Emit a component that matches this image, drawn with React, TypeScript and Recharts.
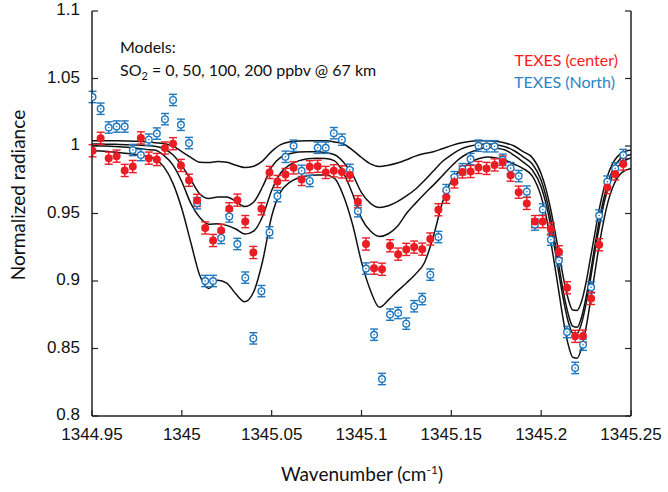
import React from "react";
import { ComposedChart, Line, Scatter, XAxis, YAxis, ErrorBar } from "recharts";

// TEXES spectra: the two data sets share one wavenumber grid
const pointX = [
  1344.9503, 1344.9548, 1344.9593, 1344.9637, 1344.9682, 1344.9727, 1344.9772, 1344.9816,
  1344.9861, 1344.9906, 1344.9951, 1344.9995, 1345.004, 1345.0085, 1345.013, 1345.0174,
  1345.0219, 1345.0264, 1345.0309, 1345.0353, 1345.0398, 1345.0443, 1345.0488, 1345.0532,
  1345.0577, 1345.0622, 1345.0667, 1345.0712, 1345.0756, 1345.0801, 1345.0846, 1345.0891,
  1345.0935, 1345.098, 1345.1025, 1345.107, 1345.1114, 1345.1159, 1345.1204, 1345.1249,
  1345.1293, 1345.1338, 1345.1383, 1345.1428, 1345.1472, 1345.1517, 1345.1562, 1345.1607,
  1345.1651, 1345.1696, 1345.1741, 1345.1786, 1345.183, 1345.1875, 1345.192, 1345.1965,
  1345.2009, 1345.2054, 1345.2099, 1345.2144, 1345.2189, 1345.2233, 1345.2278, 1345.2323,
  1345.2368, 1345.2412, 1345.2457,
];

const centerY = [
  0.9965, 1.0057, 0.991, 0.9925, 0.9819, 0.9848, 1.006, 0.991, 0.99, 0.9985, 1.0017, 0.9856,
  0.9746, 0.9597, 0.9393, 0.93, 0.9375, 0.9535, 0.9599, 0.944, 0.9211, 0.9535, 0.9804, 0.9737,
  0.9789, 0.9838, 0.9752, 0.9846, 0.985, 0.9804, 0.9816, 0.9808, 0.9786, 0.9587, 0.9274, 0.9095,
  0.9087, 0.9261, 0.9199, 0.9234, 0.9251, 0.9236, 0.9311, 0.9528, 0.962, 0.9734, 0.9808, 0.9811,
  0.9841, 0.9834, 0.986, 0.9881, 0.9784, 0.9658, 0.9575, 0.944, 0.944, 0.9386, 0.9216, 0.895,
  0.859, 0.8592, 0.8871, 0.9269, 0.9692, 0.9793, 0.9866,
];

const northY = [
  1.0363, 1.0276, 1.0137, 1.0144, 1.0144, 0.997, 0.9933, 1.0047, 1.0092, 1.0199, 1.0341, 1.0157,
  1.0022, 0.9576, 0.9, 0.9, 0.9319, 0.9478, 0.9274, 0.9025, 0.8575, 0.8925, 0.936, 0.9629,
  0.992, 1.0002, 0.9816, 0.9741, 0.9987, 0.9987, 1.0095, 1.0047, 0.9823, 0.9517, 0.9092, 0.8602,
  0.8274, 0.8751, 0.8763, 0.8684, 0.8813, 0.8866, 0.9047, 0.9326, 0.9673, 0.9769, 0.9828, 0.9903,
  1.0002, 0.9998, 0.9998, 0.9898, 0.9836, 0.9777, 0.9662, 0.9418, 0.953, 0.9306, 0.9152, 0.8622,
  0.8356, 0.8528, 0.8953, 0.9485, 0.9736, 0.9834, 0.9933,
];

const centerErr = 0.0045;
const northErr = 0.0042;

// model spectra, SO2 = 0, 50, 100, 200 ppbv
const modelX = [
  1344.95, 1344.955, 1344.96, 1344.965, 1344.97, 1344.975, 1344.98, 1344.985, 1344.99, 1344.995,
  1345.0, 1345.005, 1345.01, 1345.015, 1345.02, 1345.025, 1345.03, 1345.035, 1345.04, 1345.045,
  1345.05, 1345.055, 1345.06, 1345.065, 1345.07, 1345.075, 1345.08, 1345.085, 1345.09, 1345.095,
  1345.1, 1345.105, 1345.11, 1345.115, 1345.12, 1345.125, 1345.13, 1345.135, 1345.14, 1345.145,
  1345.15, 1345.155, 1345.16, 1345.165, 1345.17, 1345.175, 1345.18, 1345.185, 1345.19, 1345.195,
  1345.2, 1345.2025, 1345.205, 1345.2075, 1345.21, 1345.2125, 1345.215, 1345.2175, 1345.22,
  1345.2225, 1345.225, 1345.2275, 1345.23, 1345.2325, 1345.235, 1345.2375, 1345.24, 1345.245,
  1345.25,
];

const so2_0 = [
  1.0039, 1.0039, 1.0039, 1.0038, 1.0037, 1.0035, 1.0031, 1.0024, 1.0018, 1.0, 0.9958, 0.9915,
  0.988, 0.9878, 0.9886, 0.988, 0.9858, 0.984, 0.985, 0.989, 0.996, 1.001, 1.003, 1.0037, 1.0039,
  1.0039, 1.0038, 1.003, 1.0015, 0.997, 0.9915, 0.9868, 0.9848, 0.9858, 0.9874, 0.9898, 0.9925,
  0.9944, 0.9958, 0.998, 1.0003, 1.0022, 1.0034, 1.0039, 1.0039, 1.0035, 1.0022, 1.0, 0.9958,
  0.9915, 0.9795, 0.969, 0.955, 0.938, 0.92, 0.9016, 0.887, 0.8785, 0.8782, 0.885, 0.899, 0.9175,
  0.936, 0.9544, 0.969, 0.98, 0.9875, 0.995, 0.997,
];

const so2_50 = [
  1.0015, 1.0014, 1.0013, 1.0012, 1.001, 1.0007, 1.0003, 0.9998, 0.998, 0.9935, 0.9855, 0.975,
  0.9645, 0.9612, 0.9622, 0.9622, 0.959, 0.9552, 0.9585, 0.97, 0.9845, 0.9915, 0.9942, 0.9955,
  0.9958, 0.9957, 0.995, 0.9935, 0.988, 0.979, 0.9655, 0.9575, 0.9545, 0.9558, 0.9588, 0.963,
  0.968, 0.9745, 0.9815, 0.9885, 0.9935, 0.9975, 0.9998, 1.0012, 1.0015, 1.001, 0.9995, 0.9965,
  0.992, 0.9868, 0.9746, 0.9634, 0.9484, 0.9301, 0.9102, 0.891, 0.8758, 0.8666, 0.8657, 0.8733,
  0.888, 0.9066, 0.9271, 0.9458, 0.9621, 0.9741, 0.9828, 0.9914, 0.9938,
];

const so2_100 = [
  1.0002, 1.0, 0.9998, 0.9995, 0.999, 0.9984, 0.9975, 0.997, 0.993, 0.986, 0.9735, 0.9575, 0.947,
  0.942, 0.9425, 0.9412, 0.9385, 0.9348, 0.937, 0.948, 0.967, 0.98, 0.986, 0.989, 0.9905, 0.991,
  0.9907, 0.989, 0.98, 0.9646, 0.9464, 0.937, 0.933, 0.935, 0.9405, 0.95, 0.9575, 0.9645, 0.971,
  0.978, 0.985, 0.991, 0.995, 0.9975, 0.999, 0.9985, 0.997, 0.993, 0.988, 0.9824, 0.9696, 0.9582,
  0.9429, 0.9244, 0.9044, 0.8854, 0.8702, 0.8615, 0.8612, 0.8688, 0.8833, 0.9018, 0.9224, 0.9413,
  0.9578, 0.97, 0.9791, 0.988, 0.9911,
];

const so2_200 = [
  0.9965, 0.9963, 0.9958, 0.9952, 0.9945, 0.9935, 0.9925, 0.9905, 0.9845, 0.9725, 0.9535, 0.9285,
  0.904, 0.8945, 0.9005, 0.8985, 0.8905, 0.8847, 0.892, 0.915, 0.948, 0.966, 0.973, 0.9765, 0.978,
  0.9785, 0.9785, 0.976, 0.963, 0.942, 0.914, 0.893, 0.8805, 0.886, 0.8925, 0.8985, 0.905, 0.9135,
  0.933, 0.958, 0.974, 0.982, 0.9875, 0.9905, 0.9919, 0.9912, 0.9895, 0.9865, 0.9833, 0.9778,
  0.9625, 0.9496, 0.932, 0.912, 0.8906, 0.8697, 0.8532, 0.8436, 0.8427, 0.8506, 0.8656, 0.8857,
  0.9073, 0.9283, 0.9459, 0.9601, 0.97, 0.9805, 0.9833,
];

const xTicks = [1344.95, 1345, 1345.05, 1345.1, 1345.15, 1345.2, 1345.25];
const yTicks = [0.8, 0.85, 0.9, 0.95, 1, 1.05, 1.1];

const RED = "#ec1c24";
const BLUE = "#1f78bf";

const centerData = pointX.map((x, i) => ({ x, y: centerY[i], err: centerErr }));
const northData = pointX.map((x, i) => ({ x, y: northY[i], err: northErr }));
const models = [so2_0, so2_50, so2_100, so2_200].map((ys) =>
  modelX.map((x, i) => ({ x, y: ys[i] }))
);

const tickFont = { fontFamily: "Liberation Sans, Arial", fontSize: 17, fill: "#111" };
const labelFont = "Lato, 'Open Sans', sans-serif";

function RedDot({ cx, cy }: any) {
  return <circle cx={cx} cy={cy} r={4} fill={RED} />;
}

function BlueRing({ cx, cy }: any) {
  return (
    <g>
      <circle cx={cx} cy={cy} r={3.3} fill="#fff" stroke={BLUE} strokeWidth={1.4} />
      <circle cx={cx} cy={cy} r={0.8} fill={BLUE} />
    </g>
  );
}

// y tick text, nudged up a pixel so 0.8 clears the first x label
function YTick({ x, y, payload }: any) {
  return (
    <text x={x} y={y} dy={4} textAnchor="end" {...tickFont}>
      {fmtY(payload.value)}
    </text>
  );
}

const fmtY = (v: number) => String(parseFloat(v.toFixed(2)));
const fmtX = (v: number) => String(parseFloat(v.toFixed(2)));

export default function App() {
  return (
    <div style={{ position: "absolute", left: 0, top: 0, width: 668, height: 492, background: "#fff" }}>
      <ComposedChart width={668} height={492} margin={{ top: 11, right: 36, bottom: 0, left: 0 }}>
        <XAxis
          xAxisId="b"
          type="number"
          dataKey="x"
          domain={[1344.95, 1345.25]}
          allowDataOverflow
          ticks={xTicks}
          interval={0}
          tickFormatter={fmtX}
          height={76}
          tickSize={-6}
          tickMargin={18}
          tick={tickFont}
          axisLine={{ stroke: "#222", strokeWidth: 1.5 }}
          tickLine={{ stroke: "#222", strokeWidth: 1.2 }}
        />
        <XAxis
          xAxisId="t"
          orientation="top"
          type="number"
          dataKey="x"
          domain={[1344.95, 1345.25]}
          allowDataOverflow
          ticks={xTicks}
          interval={0}
          tickFormatter={() => ""}
          height={0}
          tickSize={-6}
          axisLine={{ stroke: "#222", strokeWidth: 1.5 }}
          tickLine={{ stroke: "#222", strokeWidth: 1.2 }}
        />
        <YAxis
          yAxisId="l"
          type="number"
          domain={[0.8, 1.1]}
          allowDataOverflow
          ticks={yTicks}
          interval={0}
          width={92}
          tickSize={-6}
          tickMargin={18}
          tick={<YTick />}
          axisLine={{ stroke: "#222", strokeWidth: 1.5 }}
          tickLine={{ stroke: "#222", strokeWidth: 1.2 }}
        />
        <YAxis
          yAxisId="r"
          orientation="right"
          type="number"
          domain={[0.8, 1.1]}
          allowDataOverflow
          ticks={yTicks}
          interval={0}
          tickFormatter={() => ""}
          width={1}
          tickSize={-6}
          axisLine={{ stroke: "#222", strokeWidth: 1.5 }}
          tickLine={{ stroke: "#222", strokeWidth: 1.2 }}
        />
        {models.map((d, k) => (
          <Line
            key={k}
            xAxisId="b"
            yAxisId="l"
            data={d}
            dataKey="y"
            type="monotone"
            stroke="#111"
            strokeWidth={1.5}
            dot={false}
            activeDot={false}
            isAnimationActive={false}
          />
        ))}
        <Scatter
          xAxisId="b"
          yAxisId="l"
          data={northData}
          dataKey="y"
          shape={BlueRing}
          isAnimationActive={false}
        >
          <ErrorBar dataKey="err" direction="y" width={4} stroke={BLUE} strokeWidth={1.4} />
        </Scatter>
        <Scatter
          xAxisId="b"
          yAxisId="l"
          data={centerData}
          dataKey="y"
          shape={RedDot}
          isAnimationActive={false}
        >
          <ErrorBar dataKey="err" direction="y" width={4} stroke={RED} strokeWidth={1.4} />
        </Scatter>
      </ComposedChart>

      <div style={{ position: "absolute", left: 120, top: 36, fontFamily: labelFont, fontSize: 16, lineHeight: "22px", color: "#111" }}>
        Models:
      </div>
      <div style={{ position: "absolute", left: 120, top: 59, fontFamily: labelFont, fontSize: 16, lineHeight: "22px", color: "#111", whiteSpace: "nowrap" }}>
        SO<sub style={{ fontSize: 11, lineHeight: 0 }}>2</sub> = 0, 50, 100, 200 ppbv @ 67 km
      </div>
      <div style={{ position: "absolute", right: 50, top: 49, fontFamily: labelFont, fontSize: 16, lineHeight: "22px", color: "#ff1a1a", textAlign: "right", whiteSpace: "nowrap" }}>
        TEXES (center)
      </div>
      <div style={{ position: "absolute", right: 53, top: 71, fontFamily: labelFont, fontSize: 16, lineHeight: "22px", color: "#2a85c8", textAlign: "right", whiteSpace: "nowrap" }}>
        TEXES (North)
      </div>
      <div style={{ position: "absolute", left: 18 - 150, top: 195 - 12, width: 300, height: 24, lineHeight: "24px", textAlign: "center", transform: "rotate(-90deg)", fontFamily: labelFont, fontSize: 19, color: "#111" }}>
        Normalized radiance
      </div>
      <div style={{ position: "absolute", left: 262, top: 462, width: 200, lineHeight: "24px", textAlign: "center", fontFamily: labelFont, fontSize: 19, color: "#111", whiteSpace: "nowrap" }}>
        Wavenumber (cm<sup style={{ fontSize: 12, lineHeight: 0 }}>-1</sup>)
      </div>
    </div>
  );
}
